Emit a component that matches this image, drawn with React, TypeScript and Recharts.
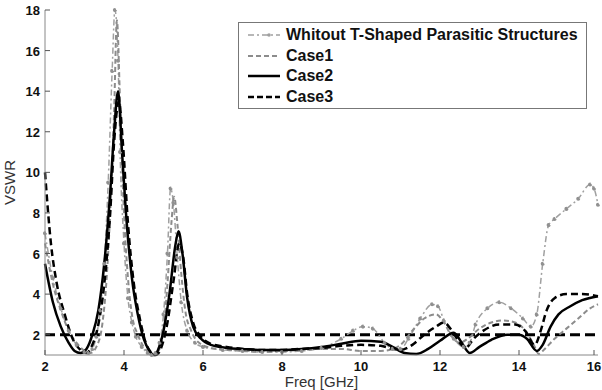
import React from 'react';
import { LineChart, Line, XAxis, YAxis, ReferenceLine } from 'recharts';

// Without T-Shaped Parasitic Structures (gray dash-dot with dot markers)
const freqWithout = [2.0,2.2,2.4,2.6,2.8,3.0,3.1,3.2,3.3,3.4,3.5,3.6,3.7,3.77,3.85,3.9,4.0,4.1,4.2,4.3,4.45,4.6,4.7,4.8,4.9,5.0,5.1,5.18,5.25,5.35,5.45,5.6,5.8,6.0,6.5,7.0,7.5,8.0,8.5,9.0,9.5,9.8,10.05,10.3,10.6,10.8,11.0,11.2,11.5,11.8,11.95,12.1,12.35,12.6,12.75,12.9,13.2,13.5,13.8,14.1,14.3,14.45,14.6,14.75,14.9,15.2,15.5,15.8,15.9,16.0];
const vswrWithout = [7.0,4.8,3.3,2.2,1.5,1.15,1.1,1.3,1.9,3.2,5.5,9.5,15.0,18.0,15.5,11.0,6.5,3.8,2.6,1.9,1.4,1.1,1.0,1.1,1.6,3.0,6.0,9.2,8.5,5.8,3.6,2.2,1.6,1.4,1.25,1.2,1.15,1.15,1.2,1.35,1.8,2.2,2.4,2.3,1.6,1.3,1.3,1.8,2.8,3.5,3.4,2.7,1.8,1.4,1.6,2.5,3.3,3.6,3.3,2.8,2.4,3.0,5.5,7.4,7.7,8.2,8.7,9.4,9.2,8.4];

// Case1 (gray dashed)
const freqCase1 = [2.0,2.2,2.4,2.6,2.8,3.0,3.15,3.3,3.45,3.55,3.65,3.75,3.82,3.9,4.0,4.1,4.2,4.35,4.5,4.65,4.75,4.9,5.0,5.1,5.2,5.27,5.35,5.45,5.55,5.7,5.9,6.2,7.0,7.5,8.0,8.5,9.0,9.5,10.0,10.5,10.8,11.0,11.3,11.6,11.9,12.1,12.3,12.5,12.7,13.0,13.3,13.6,13.9,14.2,14.4,14.5,14.6,14.9,15.2,15.5,15.8,16.0];
const vswrCase1 = [6.5,4.5,3.2,2.2,1.6,1.2,1.1,1.4,2.5,4.5,8.0,13.0,17.5,13.5,8.0,4.8,3.0,2.0,1.4,1.1,1.0,1.3,2.2,4.5,7.5,8.8,7.5,5.0,3.2,2.2,1.6,1.35,1.2,1.15,1.2,1.25,1.3,1.3,1.2,1.2,1.3,1.5,2.2,2.8,3.0,2.6,1.9,1.6,1.8,2.3,2.6,2.7,2.6,2.1,1.4,1.05,1.2,1.8,2.3,2.8,3.3,3.5];

// Case2 (black solid)
const freqCase2 = [2.0,2.2,2.4,2.6,2.75,2.9,3.05,3.2,3.35,3.5,3.65,3.75,3.85,3.95,4.05,4.2,4.35,4.5,4.65,4.75,4.85,5.0,5.15,5.3,5.38,5.48,5.6,5.75,5.95,6.2,6.6,7.0,7.5,8.0,8.5,9.0,9.5,10.0,10.5,10.8,11.1,11.4,11.7,12.0,12.35,12.55,12.75,13.0,13.3,13.7,14.0,14.2,14.45,14.6,14.8,15.0,15.3,15.6,16.0];
const vswrCase2 = [5.5,3.6,2.4,1.6,1.2,1.1,1.3,2.0,3.2,5.5,9.0,12.0,14.0,11.0,8.0,4.8,3.0,1.8,1.2,1.0,1.2,2.2,4.0,6.4,7.1,6.0,3.8,2.4,1.8,1.5,1.35,1.3,1.25,1.25,1.3,1.4,1.55,1.7,1.65,1.4,1.1,1.05,1.3,1.7,2.1,1.6,1.1,1.4,1.75,2.0,2.0,1.8,1.2,1.5,2.4,3.0,3.4,3.7,3.9];

// Case3 (black dashed)
const freqCase3 = [2.0,2.15,2.3,2.5,2.7,2.9,3.05,3.2,3.35,3.5,3.65,3.75,3.87,3.97,4.1,4.25,4.4,4.55,4.7,4.8,4.95,5.1,5.25,5.4,5.5,5.6,5.75,5.95,6.2,6.6,7.0,7.5,8.0,8.5,9.0,9.5,10.0,10.5,10.8,11.0,11.3,11.6,11.9,12.1,12.3,12.5,12.65,12.85,13.1,13.5,13.9,14.15,14.4,14.55,14.7,14.9,15.2,15.6,16.0];
const vswrCase3 = [10.0,6.5,4.5,3.0,1.8,1.25,1.1,1.5,2.5,4.5,8.0,11.5,13.5,11.5,7.5,4.5,2.8,1.6,1.1,1.0,1.4,2.6,4.6,6.5,5.8,4.0,2.6,1.9,1.55,1.4,1.3,1.25,1.25,1.3,1.35,1.45,1.5,1.45,1.3,1.25,1.5,2.0,2.4,2.6,2.2,1.6,1.35,1.8,2.2,2.5,2.5,2.2,1.5,2.2,3.2,3.8,4.0,4.0,3.9];

const xTicks = [2, 4, 6, 8, 10, 12, 14, 16];
const yTicks = [2, 4, 6, 8, 10, 12, 14, 16, 18];
const thresholdVswr = 2;

const legendItems = [
  { name: 'Whitout T-Shaped Parasitic Structures', color: '#a0a0a0', dash: '6 3 2 3', width: 1.5, dot: true },
  { name: 'Case1', color: '#8c8c8c', dash: '5 3', width: 2, dot: false },
  { name: 'Case2', color: '#000000', dash: '', width: 2.5, dot: false },
  { name: 'Case3', color: '#000000', dash: '6 3', width: 2.5, dot: false },
];

const toRows = (f: number[], v: number[]) => f.map((x, i) => ({ f: x, v: v[i] }));

const dataWithout = toRows(freqWithout, vswrWithout);
const dataCase1 = toRows(freqCase1, vswrCase1);
const dataCase2 = toRows(freqCase2, vswrCase2);
const dataCase3 = toRows(freqCase3, vswrCase3);

const FONT = 'Liberation Sans, Arial, sans-serif';

const BottomTick = (props: any) => {
  const { x, y, payload } = props;
  return (
    <g>
      <line x1={x} x2={x} y1={y} y2={y - 5} stroke="#555" strokeWidth={1} />
      <text x={x} y={y + 16} textAnchor="middle" fontSize={13} fontWeight="bold" fill="#111" fontFamily={FONT}>
        {payload.value}
      </text>
    </g>
  );
};
const TopTick = (props: any) => {
  const { x, y } = props;
  return <line x1={x} x2={x} y1={y} y2={y + 5} stroke="#555" strokeWidth={1} />;
};
const LeftTick = (props: any) => {
  const { x, y, payload } = props;
  return (
    <g>
      <line x1={x} x2={x + 5} y1={y} y2={y} stroke="#555" strokeWidth={1} />
      <text x={x - 5} y={y + 5} textAnchor="end" fontSize={13} fontWeight="bold" fill="#111" fontFamily={FONT}>
        {payload.value}
      </text>
    </g>
  );
};
const RightTick = (props: any) => {
  const { x, y } = props;
  return <line x1={x} x2={x - 5} y1={y} y2={y} stroke="#555" strokeWidth={1} />;
};

const LegendBox = () => (
  <div
    style={{
      position: 'absolute',
      left: 238,
      top: 22,
      border: '1px solid #777',
      background: '#fff',
      padding: '2px 8px 1px 8px',
      fontFamily: FONT,
      fontWeight: 'bold',
      fontSize: 16,
      color: '#111',
    }}
  >
    {legendItems.map((it) => (
      <div key={it.name} style={{ display: 'flex', alignItems: 'center', height: 20.5 }}>
        <svg width={34} height={10} style={{ marginRight: 5 }}>
          <line x1={1} x2={33} y1={5} y2={5} stroke={it.color} strokeWidth={it.width} strokeDasharray={it.dash} />
          {it.dot ? <circle cx={22} cy={5} r={1.8} fill={it.color} /> : null}
        </svg>
        <span>{it.name}</span>
      </div>
    ))}
  </div>
);

export default function App() {
  return (
    <div style={{ position: 'absolute', left: 0, top: 0, width: 602, height: 390, background: '#fff' }}>
      <LineChart width={602} height={390} margin={{ top: 10, right: 4, bottom: 0, left: 0 }}>
        <XAxis
          xAxisId="b"
          dataKey="f"
          type="number"
          domain={[2, 16]}
          ticks={xTicks}
          allowDuplicatedCategory={false}
          height={35}
          tickSize={0}
          tickMargin={0}
          tick={<BottomTick />}
          axisLine={{ stroke: '#888' }}
          tickLine={false}
          label={{ value: 'Freq [GHz]', position: 'insideBottom', offset: 3, fontSize: 15, fill: '#333', fontFamily: FONT }}
        />
        <XAxis
          xAxisId="t"
          orientation="top"
          dataKey="f"
          type="number"
          domain={[2, 16]}
          ticks={xTicks}
          height={0}
          tickSize={0}
          tickMargin={0}
          tick={<TopTick />}
          axisLine={{ stroke: '#888' }}
          tickLine={false}
        />
        <YAxis
          yAxisId="l"
          type="number"
          domain={[1, 18]}
          ticks={yTicks}
          width={45}
          tickSize={0}
          tickMargin={0}
          tick={<LeftTick />}
          axisLine={{ stroke: '#888' }}
          tickLine={false}
          label={{ value: 'VSWR', angle: -90, position: 'insideLeft', offset: 10, fontSize: 15, fill: '#333', fontFamily: FONT, style: { textAnchor: 'middle' } }}
        />
        <YAxis
          yAxisId="r"
          orientation="right"
          type="number"
          domain={[1, 18]}
          ticks={yTicks}
          width={0}
          tickSize={0}
          tickMargin={0}
          tick={<RightTick />}
          axisLine={{ stroke: '#888' }}
          tickLine={false}
        />
        <ReferenceLine xAxisId="b" yAxisId="l" y={thresholdVswr} stroke="#000" strokeWidth={3} strokeDasharray="10 5" />
        <Line
          xAxisId="b" yAxisId="l"
          data={dataWithout} dataKey="v" name="Without" type="monotone"
          stroke="#a0a0a0" strokeWidth={1.5} strokeDasharray="6 3 2 3"
          dot={{ r: 1.3, fill: '#909090', stroke: '#909090' }}
          isAnimationActive={false}
        />
        <Line
          xAxisId="b" yAxisId="l"
          data={dataCase1} dataKey="v" name="Case1" type="monotone"
          stroke="#8c8c8c" strokeWidth={2} strokeDasharray="5 3" dot={false}
          isAnimationActive={false}
        />
        <Line
          xAxisId="b" yAxisId="l"
          data={dataCase2} dataKey="v" name="Case2" type="monotone"
          stroke="#000" strokeWidth={2.5} dot={false}
          isAnimationActive={false}
        />
        <Line
          xAxisId="b" yAxisId="l"
          data={dataCase3} dataKey="v" name="Case3" type="monotone"
          stroke="#000" strokeWidth={2.5} strokeDasharray="7 4" dot={false}
          isAnimationActive={false}
        />
      </LineChart>
      <LegendBox />
    </div>
  );
}
